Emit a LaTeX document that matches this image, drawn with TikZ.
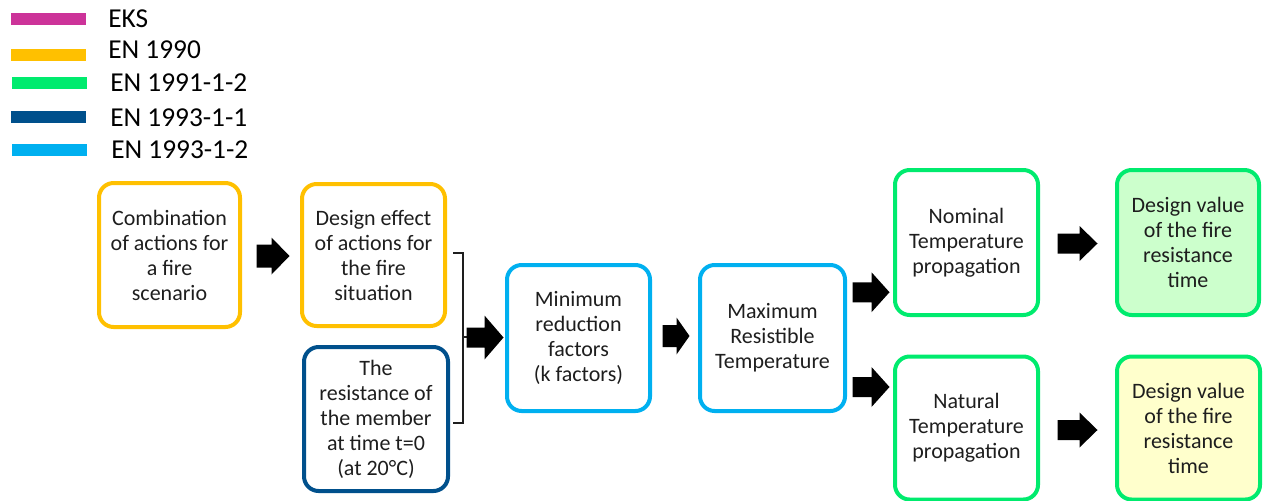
\documentclass[tikz,border=0pt]{standalone}
\usepackage{fontspec}
\setmainfont{Carlito}
\usetikzlibrary{calc}
\definecolor{eks}{RGB}{204,51,153}
\definecolor{orng}{RGB}{255,192,0}
\definecolor{grn}{RGB}{0,235,110}
\definecolor{dblue}{RGB}{0,80,140}
\definecolor{lblue}{RGB}{0,176,240}
\definecolor{lgfill}{RGB}{204,255,204}
\definecolor{lyfill}{RGB}{255,255,204}
\definecolor{txt}{RGB}{30,30,30}
\tikzset{
  x=0.75pt, y=-0.75pt,
  box/.style={draw=#1, line width=3pt, rounded corners=11pt, align=center,
    text=txt, font=\fontsize{16.5}{18.75}\selectfont, inner sep=0pt},
  lgbar/.style={line width=9pt},
  lgtext/.style={anchor=west, inner sep=0pt, text=black, font=\fontsize{20.5}{24}\selectfont},
  pics/barrow/.style args={#1/#2/#3/#4}{code={
    \fill[black] (-#1/2,-#3) -- (#1/2-#2,-#3) -- (#1/2-#2,-#4) -- (#1/2,0)
      -- (#1/2-#2,#4) -- (#1/2-#2,#3) -- (-#1/2,#3) -- cycle;}}
}
\begin{document}
\begin{tikzpicture}
\useasboundingbox (0,0) rectangle (1269,500);
% legend
\coordinate (l1a) at (11,19); \coordinate (l1b) at (86,19);
\coordinate (l2a) at (11,55); \coordinate (l2b) at (86,55);
\coordinate (l3a) at (12,83); \coordinate (l3b) at (87,83);
\coordinate (l4a) at (11,117); \coordinate (l4b) at (86,117);
\coordinate (l5a) at (12,150); \coordinate (l5b) at (87,150);
\draw[lgbar, eks] (l1a) -- (l1b);
\draw[lgbar, orng] (l2a) -- (l2b);
\draw[lgbar, grn] (l3a) -- (l3b);
\draw[lgbar, dblue] (l4a) -- (l4b);
\draw[lgbar, lblue] (l5a) -- (l5b);
\node[lgtext] (t1) at (108,19) {EKS};
\node[lgtext] (t2) at (108,50) {EN 1990};
\node[lgtext] (t3) at (110,83) {EN 1991-1-2};
\node[lgtext] (t4) at (110,118) {EN 1993-1-1};
\node[lgtext] (t5) at (111,150) {EN 1993-1-2};
% boxes
\node[box=orng, minimum width=141*0.75pt, minimum height=144*0.75pt] (b1) at (169.5,255)
  {Combination\\of actions for\\a fire\\scenario};
\node[box=orng, minimum width=143*0.75pt, minimum height=142*0.75pt] (b2) at (373.5,255)
  {Design effect\\of actions for\\the fire\\situation};
\node[box=dblue, minimum width=144*0.75pt, minimum height=144*0.75pt] (b3) at (376,419)
  {The\\resistance of\\the member\\at time t=0\\(at 20°C)};
\node[box=lblue, minimum width=143*0.75pt, minimum height=146*0.75pt] (b4) at (578.5,338)
  {Minimum\\reduction\\factors\\(k factors)};
\node[box=lblue, minimum width=145*0.75pt, minimum height=146*0.75pt] (b5) at (772.5,338)
  {Maximum\\Resistible\\Temperature};
\node[box=grn, minimum width=143*0.75pt, minimum height=145*0.75pt] (b6) at (966.5,242.5)
  {Nominal\\Temperature\\propagation};
\node[box=grn, minimum width=143*0.75pt, minimum height=143*0.75pt] (b7) at (966.5,428)
  {Natural\\Temperature\\propagation};
\node[box=grn, fill=lgfill, minimum width=142*0.75pt, minimum height=145*0.75pt] (b8) at (1188,242.5)
  {Design value\\of the fire\\resistance\\time};
\node[box=grn, fill=lyfill, minimum width=143*0.75pt, minimum height=143*0.75pt] (b9) at (1188.5,428)
  {Design value\\of the fire\\resistance\\time};
% bracket
\coordinate (brt) at ($(b2.east)+(6,-2)$);
\coordinate (brb) at ($(b3.east)+(3,4)$);
\coordinate (brm) at (463,337);
\draw[line width=1.1pt, txt] (brt) -- (brt -| brm) -- (brb -| brm) -- (brb);
\draw[line width=1.1pt, txt] (brm) -- ++(5,0);
% arrows
\path ($(b1.east)!0.5!(b2.west)+(2,1)$) pic {barrow=33/18/11.5/18.5};
\path ($(brm)!0.5!(b4.west)+(1,0)$) pic {barrow=37/19/10/22};
\path ($(b4.east)!0.5!(b5.west)+(1,-2)$) pic {barrow=27/13/11/18.5};
\path ($(b5.east)!0.5!(b6.west)+(1,2)$) pic {barrow=37/18/10/20};
\path ($(b5.east)!0.5!(b7.west)+(1,4)$) pic {barrow=37/18/10/20};
\path ($(b6.east)!0.5!(b8.west)+(0,1)$) pic {barrow=40/18/10/17.5};
\path ($(b7.east)!0.5!(b9.west)+(0,2)$) pic {barrow=40/18/10/17.5};
\end{tikzpicture}
\end{document}
